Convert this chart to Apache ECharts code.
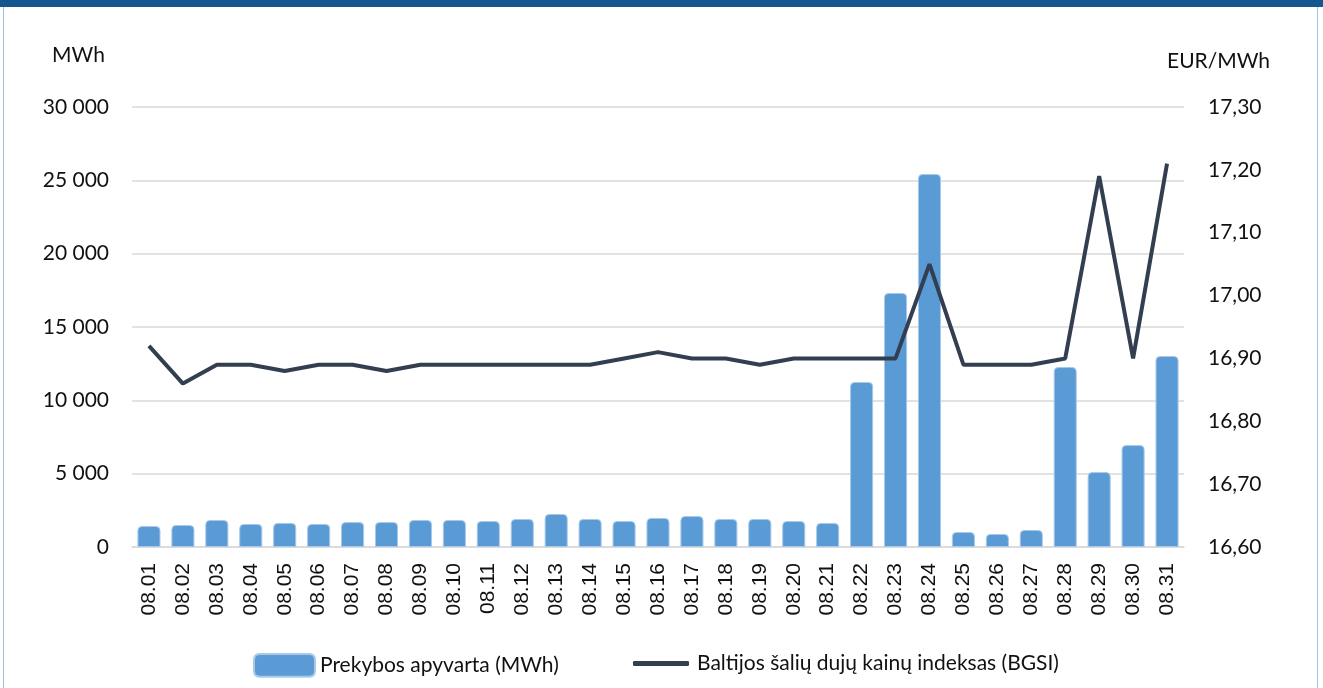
<!DOCTYPE html>
<html>
<head>
<meta charset="utf-8">
<script src="https://cdn.jsdelivr.net/npm/echarts@6/dist/echarts.min.js"></script>
<style>
html,body{margin:0;padding:0;background:#fff;}
#frame{position:absolute;left:0;top:0;width:1323px;height:688px;box-sizing:border-box;border-top:7px solid #14568f;}
#edgeL{position:absolute;left:3px;top:7px;width:1px;height:681px;background:#9dc3e6;}
#edgeR{position:absolute;left:1317px;top:7px;width:1px;height:681px;background:#9dc3e6;}
#chart{position:absolute;left:0;top:0;width:1323px;height:688px;}
</style>
</head>
<body>
<div id="frame"></div>
<div id="edgeL"></div>
<div id="edgeR"></div>
<div id="chart"></div>
<script>
const categories = ['08.01','08.02','08.03','08.04','08.05','08.06','08.07','08.08','08.09','08.10','08.11','08.12','08.13','08.14','08.15','08.16','08.17','08.18','08.19','08.20','08.21','08.22','08.23','08.24','08.25','08.26','08.27','08.28','08.29','08.30','08.31'];
const turnover = [1430,1500,1840,1570,1640,1570,1700,1700,1840,1840,1770,1910,2250,1910,1770,1980,2110,1910,1910,1770,1640,11250,17320,25430,1020,890,1160,12270,5110,6950,13020];
const bgsi = [16.92,16.86,16.89,16.89,16.88,16.89,16.89,16.88,16.89,16.89,16.89,16.89,16.89,16.89,16.90,16.91,16.90,16.90,16.89,16.90,16.90,16.90,16.90,17.05,16.89,16.89,16.89,16.90,17.19,16.90,17.21];
const barName = 'Prekybos apyvarta (MWh)';
const lineName = 'Baltijos šalių dujų kainų indeksas (BGSI)';
const leftUnit = 'MWh';
const rightUnit = 'EUR/MWh';

const FONT = 'Lato';
const CATFONT = 'Liberation Sans';
const TXT = '#111111';
const chart = echarts.init(document.getElementById('chart'), null, {renderer:'canvas'});
function fmtLeft(v){ return String(Math.round(v)).replace(/\B(?=(\d{3})+(?!\d))/g, ' '); }
function fmtRight(v){ return v.toFixed(2).replace('.', ','); }
chart.setOption({
  animation:false,
  textStyle:{fontFamily:FONT},
  grid:{left:132,right:139,top:107,bottom:141,containLabel:false},
  legend:[
    {data:[{name:barName,icon:'path://M6,0 L56,0 Q62,0 62,6 L62,17 Q62,23 56,23 L6,23 Q0,23 0,17 L0,6 Q0,0 6,0 Z'},],left:248,top:648,itemWidth:61,itemHeight:23,itemGap:10,
     textStyle:{fontFamily:FONT,fontSize:21,color:TXT},selectedMode:false},
    {data:[{name:lineName,icon:'roundRect'}],left:628,top:648,itemWidth:56,itemHeight:5,itemGap:10,
     textStyle:{fontFamily:FONT,fontSize:21,color:TXT,padding:[0,0,0,3]},selectedMode:false}
  ],
  graphic:[
    {type:'text',left:52,top:45,style:{text:leftUnit,font:'21px '+FONT,fill:TXT}},
    {type:'text',left:1167,top:51,style:{text:rightUnit,font:'21px '+FONT,fill:TXT}}
  ],
  xAxis:{
    type:'category',data:categories,
    axisLine:{show:true,lineStyle:{color:'#d9d9d9',width:1.5}},
    axisTick:{show:false},
    axisLabel:{rotate:90,fontSize:21,fontFamily:CATFONT,color:TXT,margin:16}
  },
  yAxis:[
    {type:'value',min:0,max:30000,interval:5000,
     axisLine:{show:false},axisTick:{show:false},
     splitLine:{lineStyle:{color:'#d9d9d9',width:1.5}},
     axisLabel:{fontSize:21,fontFamily:FONT,color:TXT,margin:23,formatter:fmtLeft}},
    {type:'value',min:16.60,max:17.30,interval:0.10,
     axisLine:{show:false},axisTick:{show:false},splitLine:{show:false},
     axisLabel:{fontSize:21,fontFamily:FONT,color:TXT,margin:24,formatter:fmtRight}}
  ],
  series:[
    {name:barName,type:'bar',data:turnover,yAxisIndex:0,barCategoryGap:'32%',
     itemStyle:{color:'#5b9bd5',borderColor:'#a9c9ea',borderWidth:1,borderRadius:[4,4,0,0]}},
    {name:lineName,type:'line',data:bgsi,yAxisIndex:1,symbol:'none',
     lineStyle:{color:'#333f50',width:4},itemStyle:{color:'#333f50'}}
  ]
});
</script>
</body>
</html>
